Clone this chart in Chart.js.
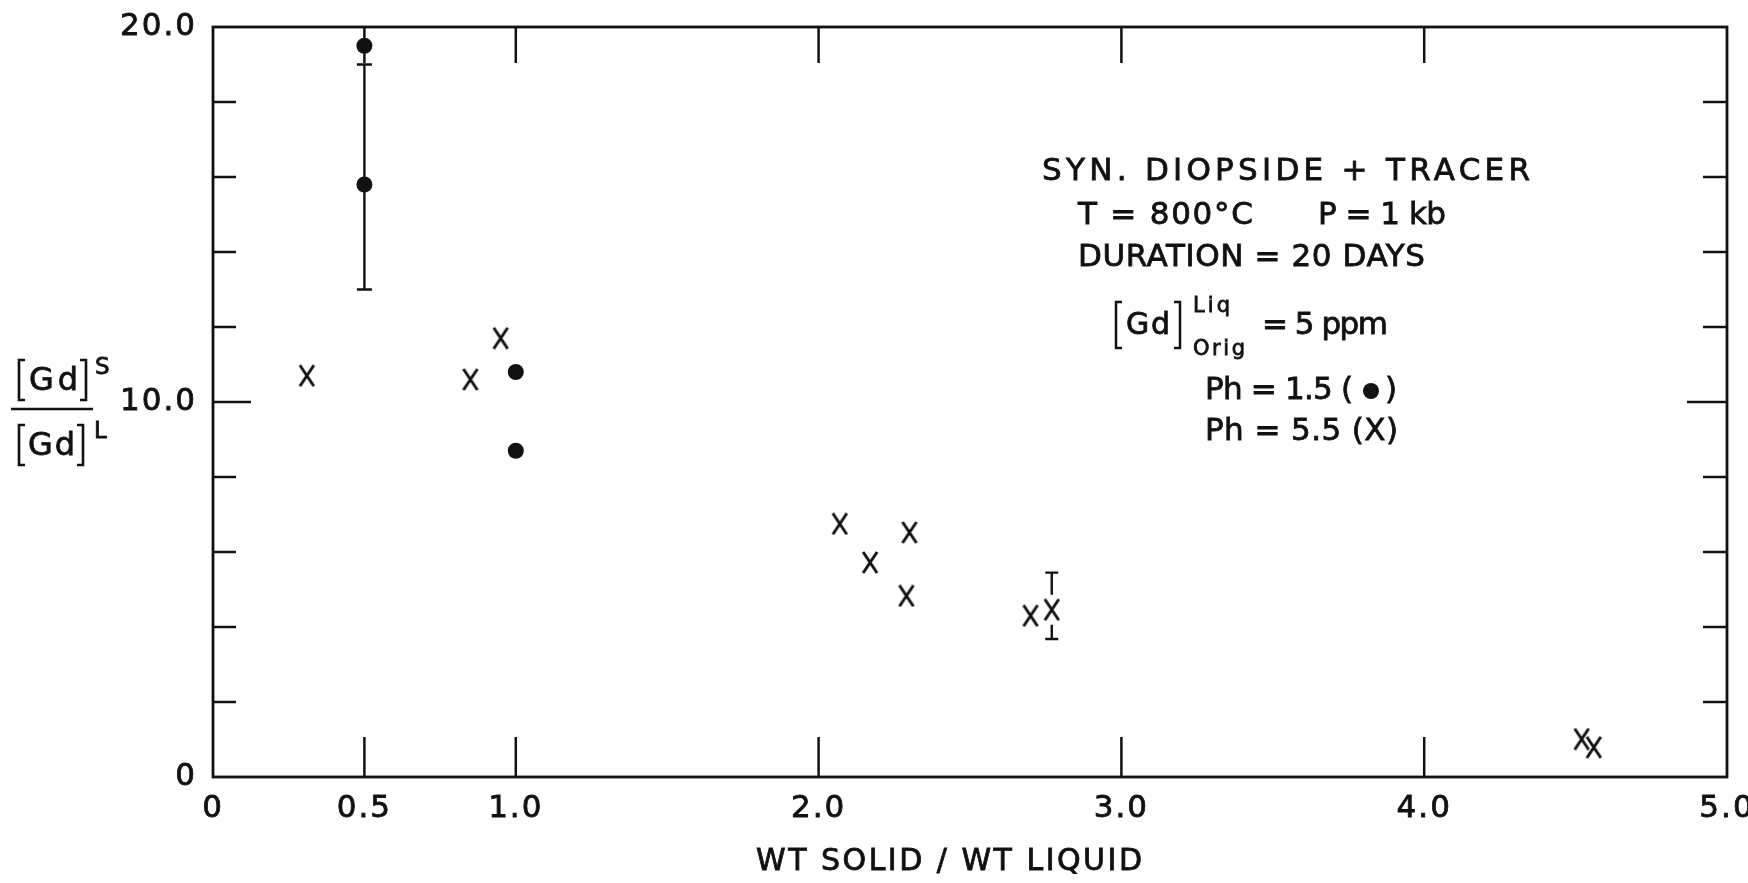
<!DOCTYPE html>
<html>
<head>
<meta charset="utf-8">
<script src="https://cdn.jsdelivr.net/npm/chart.js@4.4.1/dist/chart.umd.min.js"></script>
<style>
  html, body { margin: 0; padding: 0; background: #fff; }
</style>
</head>
<body>
<canvas id="chart" width="1748" height="883"></canvas>
<script>
const FONT = '"DejaVu Sans", "Liberation Sans", sans-serif';
const INK = "#111";

// pH 1.5 runs (filled dots)
const DOT_X = [0.5, 0.5, 1.0, 1.0];
const DOT_Y = [19.5, 15.8, 10.8, 8.7];
const DOT_ERR_LO = [null, 13.0, null, null];
const DOT_ERR_HI = [null, 19.0, null, null];

// pH 5.5 runs (crosses)
const CROSS_X = [0.31, 0.85, 0.95, 2.07, 2.17, 2.30, 2.29, 2.70, 2.77, 4.52, 4.56];
const CROSS_Y = [10.7, 10.6, 11.7, 6.75, 5.72, 6.52, 4.83, 4.30, 4.46, 1.01, 0.79];
const CROSS_ERR_LO = [null, null, null, null, null, null, null, null, 3.68, null, null];
const CROSS_ERR_HI = [null, null, null, null, null, null, null, null, 5.45, null, null];

const X_TICKS = [0, 0.5, 1, 2, 3, 4, 5];
const X_LABELS = ["0", "0.5", "1.0", "2.0", "3.0", "4.0", "5.0"];
const Y_TICKS = [0, 2, 4, 6, 8, 10, 12, 14, 16, 18, 20];
const Y_LABELS = { 0: "0", 10: "10.0", 20: "20.0" };

// tall narrow "X" used as the point glyph
function crossSprite(w, h, lw) {
  const c = document.createElement("canvas");
  c.width = w; c.height = h;
  const g = c.getContext("2d");
  g.strokeStyle = INK; g.lineWidth = lw;
  g.beginPath();
  g.moveTo(2, 1); g.lineTo(w - 2, h - 1);
  g.moveTo(w - 2, 1); g.lineTo(2, h - 1);
  g.stroke();
  return c;
}

function pts(xs, ys) { return xs.map((x, i) => ({ x, y: ys[i] })); }

function drawErrBars(ctx, xs, ys, lo, hi, cap, gap, sx, sy) {
  ctx.beginPath();
  xs.forEach((v, i) => {
    if (lo[i] == null) return;
    const px = sx.getPixelForValue(v);
    const py = sy.getPixelForValue(ys[i]);
    const pl = sy.getPixelForValue(lo[i]);
    const ph = sy.getPixelForValue(hi[i]);
    ctx.moveTo(px - cap, ph); ctx.lineTo(px + cap, ph);
    ctx.moveTo(px - cap, pl); ctx.lineTo(px + cap, pl);
    if (gap) {
      ctx.moveTo(px, ph); ctx.lineTo(px, py - gap);
      ctx.moveTo(px, py + gap); ctx.lineTo(px, pl);
    } else {
      ctx.moveTo(px, ph); ctx.lineTo(px, pl);
    }
  });
  ctx.stroke();
}

// spread the letters so the text runs from left to right; a thin stroke
// thickens the strokes to the lettering-pen weight
function fitText(ctx, text, left, right, cy) {
  ctx.letterSpacing = "0px";
  const w0 = ctx.measureText(text).width;
  const n = [...text].length;
  const ls = n > 1 ? (right - left - w0) / (n - 1) : 0;
  ctx.letterSpacing = ls + "px";
  ctx.fillText(text, left, cy);
  ctx.strokeText(text, left, cy);
  ctx.letterSpacing = "0px";
}

function bracket(ctx, x, top, bottom, dir, serif) {
  ctx.beginPath();
  ctx.moveTo(x + dir * serif, top); ctx.lineTo(x, top);
  ctx.lineTo(x, bottom); ctx.lineTo(x + dir * serif, bottom);
  ctx.stroke();
}

const frame = {
  id: "frame",
  beforeDraw(chart) { chart.ctx.letterSpacing = "2px"; },
  beforeDatasetsDraw(chart) {
    const { ctx, chartArea: a, scales: { x, y } } = chart;
    ctx.save();
    ctx.letterSpacing = "0px";
    ctx.strokeStyle = INK;
    ctx.lineWidth = 2.5;
    ctx.beginPath();
    for (const v of X_TICKS.slice(1, -1)) {
      const px = x.getPixelForValue(v);
      ctx.moveTo(px, a.bottom); ctx.lineTo(px, a.bottom - 40);
      ctx.moveTo(px, a.top); ctx.lineTo(px, a.top + 36);
    }
    for (const v of Y_TICKS.slice(1, -1)) {
      const py = y.getPixelForValue(v);
      const major = v === 10;
      ctx.moveTo(a.left, py); ctx.lineTo(a.left + (major ? 38 : 23), py);
      ctx.moveTo(a.right, py); ctx.lineTo(a.right - (major ? 40 : 24), py);
    }
    ctx.stroke();
    ctx.lineWidth = 2.8;
    ctx.strokeRect(a.left, a.top, a.right - a.left, a.bottom - a.top);

    ctx.lineWidth = 2.4;
    drawErrBars(ctx, DOT_X, DOT_Y, DOT_ERR_LO, DOT_ERR_HI, 7.5, 0, x, y);
    drawErrBars(ctx, CROSS_X, CROSS_Y, CROSS_ERR_LO, CROSS_ERR_HI, 6.5, 15, x, y);
    ctx.restore();
  },
  afterDraw(chart) {
    const ctx = chart.ctx;
    ctx.save();
    ctx.fillStyle = INK;
    ctx.strokeStyle = INK;
    ctx.textBaseline = "middle";
    ctx.textAlign = "left";

    // x-axis title
    ctx.lineWidth = 0.8;
    ctx.font = `30px ${FONT}`;
    fitText(ctx, "WT SOLID / WT LIQUID", 756, 1142, 862);

    // y-axis title: [Gd]^S / [Gd]^L
    ctx.lineWidth = 2.6;
    bracket(ctx, 19, 360, 400, 1, 6);
    bracket(ctx, 86, 360, 400, -1, 6);
    bracket(ctx, 19, 425, 465, 1, 6);
    bracket(ctx, 83, 425, 465, -1, 6);
    ctx.beginPath();
    ctx.moveTo(11, 409); ctx.lineTo(93, 409);
    ctx.stroke();
    ctx.lineWidth = 0.8;
    ctx.font = `32px ${FONT}`;
    fitText(ctx, "Gd", 29, 78, 382);
    fitText(ctx, "Gd", 28, 75, 447);
    ctx.font = `23px ${FONT}`;
    ctx.fillText("S", 95, 368); ctx.strokeText("S", 95, 368);
    ctx.fillText("L", 94, 432); ctx.strokeText("L", 94, 432);

    // run conditions
    ctx.font = `31px ${FONT}`;
    fitText(ctx, "SYN. DIOPSIDE + TRACER", 1042, 1530, 172);
    fitText(ctx, "T = 800°C", 1078, 1253, 216);
    fitText(ctx, "P = 1 kb", 1318, 1446, 216);
    fitText(ctx, "DURATION = 20 DAYS", 1078, 1425, 258);

    ctx.lineWidth = 2.5;
    bracket(ctx, 1116, 302, 348, 1, 6);
    bracket(ctx, 1180, 302, 348, -1, 6);
    ctx.lineWidth = 0.8;
    ctx.font = `30px ${FONT}`;
    fitText(ctx, "Gd", 1126, 1170, 326);
    ctx.font = `31px ${FONT}`;
    fitText(ctx, "= 5 ppm", 1262, 1388, 326);
    ctx.font = `21px ${FONT}`;
    fitText(ctx, "Liq", 1193, 1230, 307);
    fitText(ctx, "Orig", 1193, 1245, 350);

    ctx.font = `31px ${FONT}`;
    fitText(ctx, "Ph = 1.5 (", 1205, 1353, 391);
    ctx.beginPath();
    ctx.arc(1371, 391, 8, 0, Math.PI * 2);
    ctx.fill();
    fitText(ctx, ")", 1385, 1395, 391);
    fitText(ctx, "Ph = 5.5 (X)", 1205, 1398, 432);
    ctx.restore();
  },
};

const tickFont = { family: FONT, size: 31 };

const cfg = {
  type: "scatter",
  data: {
    datasets: [
      {
        label: "Ph = 1.5", data: pts(DOT_X, DOT_Y),
        pointStyle: "circle", pointRadius: 8, backgroundColor: INK, borderWidth: 0,
      },
      {
        label: "Ph = 5.5", data: pts(CROSS_X, CROSS_Y),
        pointStyle: crossSprite(18, 23, 2.9), pointRadius: 11,
      },
    ],
  },
  options: {
    responsive: false, animation: false, devicePixelRatio: 1,
    layout: { padding: { top: 27, right: 21, left: 0, bottom: 0 } },
    plugins: { legend: { display: false }, tooltip: { enabled: false } },
    scales: {
      x: {
        type: "linear", min: 0, max: 5,
        grid: { display: false, drawTicks: false }, border: { display: false },
        afterBuildTicks: (s) => { s.ticks = X_TICKS.map((v) => ({ value: v })); },
        afterFit: (s) => { s.height = 106; s.paddingLeft = 0; s.paddingRight = 0; },
        ticks: {
          autoSkip: false, maxRotation: 0, padding: 13, color: INK,
          textStrokeColor: INK, textStrokeWidth: 0.8, font: tickFont,
          callback: (v) => X_LABELS[X_TICKS.indexOf(v)],
        },
      },
      y: {
        type: "linear", min: 0, max: 20,
        grid: { display: false, drawTicks: false }, border: { display: false },
        afterBuildTicks: (s) => { s.ticks = Y_TICKS.map((v) => ({ value: v })); },
        afterFit: (s) => { s.width = 213; s.paddingTop = 0; s.paddingBottom = 0; },
        ticks: {
          autoSkip: false, padding: 16, color: INK,
          textStrokeColor: INK, textStrokeWidth: 0.8, font: tickFont,
          callback: (v) => Y_LABELS[v] ?? "",
        },
      },
    },
  },
  plugins: [frame],
};

new Chart(document.getElementById("chart"), cfg);
</script>
</body>
</html>
